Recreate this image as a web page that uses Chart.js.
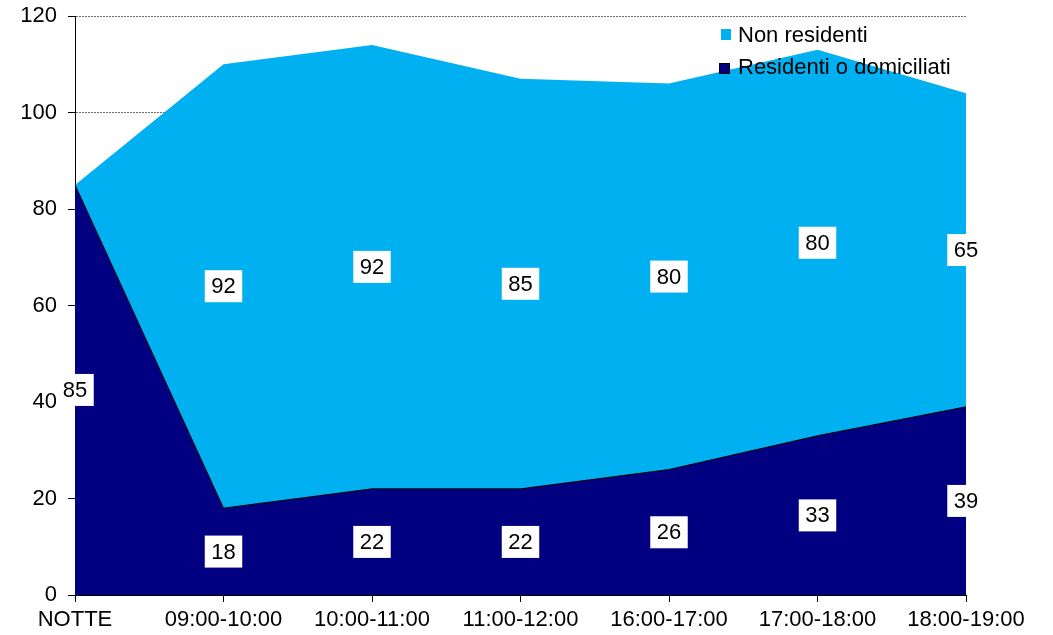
<!DOCTYPE html>
<html>
<head>
<meta charset="utf-8">
<script src="https://cdn.jsdelivr.net/npm/chart.js@4"></script>
<style>
  html, body { margin: 0; padding: 0; background: #fff; }
  #wrap { width: 1053px; height: 635px; }
</style>
</head>
<body>
<div id="wrap"><canvas id="chart"></canvas></div>
<script>
const fasce = ['NOTTE', '09:00-10:00', '10:00-11:00', '11:00-12:00', '16:00-17:00', '17:00-18:00', '18:00-19:00'];
const residenti = [85, 18, 22, 22, 26, 33, 39];
const nonResidenti = [0, 92, 92, 85, 80, 80, 65];
const yTicks = [0, 20, 40, 60, 80, 100, 120];

const FONT = '"Liberation Sans", Arial, sans-serif';

// etichette valori: box bianco al centro di ogni fascia impilata
const boxLabels = {
    id: 'boxLabels',
    afterDatasetsDraw(chart) {
        const ctx = chart.ctx;
        const y = chart.scales.y;
        ctx.save();
        ctx.font = '22px ' + FONT;
        ctx.textAlign = 'center';
        ctx.textBaseline = 'middle';
        chart.data.datasets.forEach((ds, i) => {
            const meta = chart.getDatasetMeta(i);
            meta.data.forEach((pt, j) => {
                const v = ds.data[j];
                if (!v) return;
                let base = 0;
                for (let k = 0; k < i; k++) base += chart.data.datasets[k].data[j];
                const cy = y.getPixelForValue(base + v / 2);
                const w = ctx.measureText(String(v)).width + 13;
                const h = 32;
                ctx.fillStyle = '#fff';
                ctx.fillRect(pt.x - w / 2, cy - h / 2, w, h);
                ctx.fillStyle = '#000';
                ctx.fillText(String(v), pt.x, cy + 1);
            });
        });
        ctx.restore();
    }
};

// legenda dentro l'area del grafico, in alto a destra
const boxLegend = {
    id: 'boxLegend',
    afterDraw(chart) {
        const ctx = chart.ctx;
        const items = [
            { ds: chart.data.datasets[1], sx: 721, sy: 29, w: 10, h: 11, ty: 36 },
            { ds: chart.data.datasets[0], sx: 719, sy: 63, w: 11, h: 11, ty: 68 }
        ];
        ctx.save();
        ctx.font = '22px ' + FONT;
        ctx.textBaseline = 'middle';
        ctx.textAlign = 'left';
        items.forEach((it) => {
            ctx.fillStyle = it.ds.backgroundColor;
            ctx.fillRect(it.sx, it.sy, it.w, it.h);
            if (it.ds.borderWidth) {
                ctx.strokeStyle = '#000';
                ctx.lineWidth = 1;
                ctx.strokeRect(it.sx + 0.5, it.sy + 0.5, it.w - 1, it.h - 1);
            }
            ctx.fillStyle = '#000';
            ctx.fillText(it.ds.label, 738, it.ty);
        });
        ctx.restore();
    }
};

new Chart(document.getElementById('chart'), {
    type: 'line',
    data: {
        labels: fasce,
        datasets: [
            {
                label: 'Residenti o domiciliati',
                data: residenti,
                backgroundColor: '#000080',
                borderColor: '#000',
                borderWidth: 1,
                fill: 'origin',
                pointRadius: 0,
                tension: 0
            },
            {
                label: 'Non residenti',
                data: nonResidenti,
                backgroundColor: '#00B0F0',
                borderColor: '#00B0F0',
                borderWidth: 0,
                fill: '-1',
                pointRadius: 0,
                tension: 0
            }
        ]
    },
    options: {
        responsive: true,
        maintainAspectRatio: false,
        animation: false,
        layout: { padding: { top: 16, right: 87, bottom: 0, left: 0 } },
        plugins: {
            legend: { display: false },
            tooltip: { enabled: false }
        },
        scales: {
            x: {
                offset: false,
                grid: { drawOnChartArea: false, drawTicks: true, tickLength: 7, tickColor: '#000' },
                border: { color: '#000', width: 1 },
                ticks: { color: '#000', font: { family: FONT, size: 22 }, padding: 5, maxRotation: 0, autoSkip: false },
                afterFit: (s) => { s.height = 40; }
            },
            y: {
                stacked: true,
                min: 0,
                max: 120,
                afterBuildTicks: (s) => { s.ticks = yTicks.map(v => ({ value: v })); },
                grid: { color: '#6f6f6f', lineWidth: 1, tickLength: 7, tickColor: '#000' },
                border: { color: '#000', width: 1, dash: [2, 1] },
                ticks: { color: '#000', font: { family: FONT, size: 22 }, padding: 11 },
                afterFit: (s) => { s.width = 75; s.paddingTop = 0; s.paddingBottom = 0; }
            }
        }
    },
    plugins: [boxLabels, boxLegend]
});
</script>
</body>
</html>
